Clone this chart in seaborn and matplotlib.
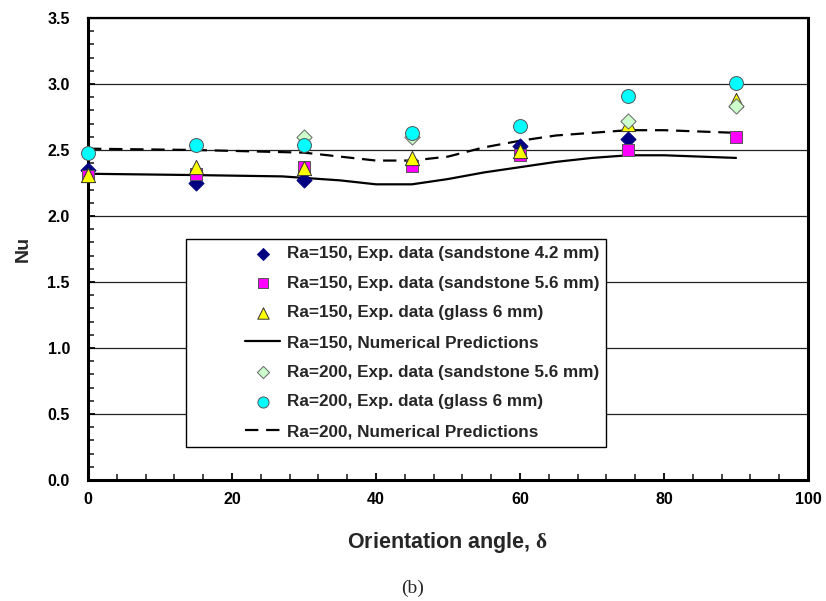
import numpy as np
import pandas as pd
import matplotlib
matplotlib.use("Agg")
import matplotlib.pyplot as plt
import matplotlib.patches as mpatches
import seaborn as sns
from matplotlib.ticker import MultipleLocator

# ---- data ----
ra150_sand42_x = [0, 15, 30, 60, 75]
ra150_sand42_y = [2.35, 2.25, 2.27, 2.53, 2.58]

ra150_sand56_x = [0, 15, 30, 45, 60, 75, 90]
ra150_sand56_y = [2.30, 2.32, 2.37, 2.38, 2.46, 2.50, 2.60]

ra150_glass_x = [0, 15, 30, 45, 60, 75, 90]
ra150_glass_y = [2.31, 2.37, 2.36, 2.44, 2.49, 2.70, 2.88]

ra150_num_x = [0, 15, 27, 35, 40, 45, 50, 55, 60, 65, 70, 75, 80, 85, 90]
ra150_num_y = [2.32, 2.31, 2.30, 2.27, 2.24, 2.24, 2.28, 2.33, 2.37, 2.41, 2.44, 2.46, 2.46, 2.45, 2.44]

ra200_sand56_x = [30, 45, 75, 90]
ra200_sand56_y = [2.60, 2.60, 2.72, 2.83]

ra200_glass_x = [0, 15, 30, 45, 60, 75, 90]
ra200_glass_y = [2.48, 2.54, 2.54, 2.63, 2.68, 2.91, 3.01]

ra200_num_x = [0, 15, 30, 35, 40, 45, 50, 55, 60, 65, 70, 75, 80, 85, 90]
ra200_num_y = [2.51, 2.50, 2.48, 2.45, 2.42, 2.42, 2.45, 2.52, 2.57, 2.61, 2.63, 2.65, 2.65, 2.64, 2.63]

labels = [
    "Ra=150, Exp. data (sandstone 4.2 mm)",
    "Ra=150, Exp. data (sandstone 5.6 mm)",
    "Ra=150, Exp. data (glass 6 mm)",
    "Ra=150, Numerical Predictions",
    "Ra=200, Exp. data (sandstone 5.6 mm)",
    "Ra=200, Exp. data (glass 6 mm)",
    "Ra=200, Numerical Predictions",
]

# ---- style ----
sns.set_style("white")
plt.rcParams["font.family"] = ["Liberation Sans", "DejaVu Sans"]
plt.rcParams["font.weight"] = "bold"
plt.rcParams["mathtext.fontset"] = "custom"
plt.rcParams["mathtext.rm"] = "Liberation Serif"
plt.rcParams["mathtext.it"] = "Liberation Serif:italic"

W, H = 826, 601
fig = plt.figure(figsize=(W / 100, H / 100), dpi=100)
ax = fig.add_axes([88 / W, 1 - 480 / H, (808 - 88) / W, (480 - 18) / H])

sns.lineplot(x=ra150_num_x, y=ra150_num_y, ax=ax, color="black", lw=1.6,
             label=labels[3], zorder=2, sort=False)
sns.lineplot(x=ra200_num_x, y=ra200_num_y, ax=ax, color="black", lw=1.6,
             label=labels[6], zorder=2, sort=False)
ax.lines[-1].set_dashes((6, 3.5))

sc_kw = dict(ax=ax, zorder=3, clip_on=False)
sns.scatterplot(x=ra150_sand42_x, y=ra150_sand42_y, marker="D", s=60,
                color="#000080", edgecolor="#000080", linewidth=0.6, label=labels[0], **sc_kw)
sns.scatterplot(x=ra150_sand56_x, y=ra150_sand56_y, marker="s", s=85,
                color="#FF00FF", edgecolor="#555555", linewidth=0.7, label=labels[1], **sc_kw)
sns.scatterplot(x=ra150_glass_x, y=ra150_glass_y, marker="^", s=105,
                color="#FFFF00", edgecolor="#333333", linewidth=0.7, label=labels[2], **sc_kw)
sns.scatterplot(x=ra200_sand56_x, y=ra200_sand56_y, marker="D", s=60,
                color="#CCFFCC", edgecolor="#666666", linewidth=0.7, label=labels[4], **sc_kw)
sns.scatterplot(x=ra200_glass_x, y=ra200_glass_y, marker="o", s=100,
                color="#00FFFF", edgecolor="#555555", linewidth=0.7, label=labels[5], **sc_kw)

# collect handles, then drop seaborn's automatic axes legend
handles, labs = ax.get_legend_handles_labels()
if ax.get_legend() is not None:
    ax.get_legend().remove()

ax.set_xlim(0, 100)
ax.set_ylim(0, 3.5)
ax.xaxis.set_major_locator(MultipleLocator(20))
ax.xaxis.set_minor_locator(MultipleLocator(4))
ax.yaxis.set_major_locator(MultipleLocator(0.5))
ax.yaxis.set_minor_locator(MultipleLocator(0.1))
ax.yaxis.set_major_formatter(matplotlib.ticker.FormatStrFormatter("%.1f"))
ax.tick_params(axis="both", which="major", direction="in", length=5, width=1.3,
               labelsize=11.5, colors="black")
ax.tick_params(axis="both", which="minor", direction="in", length=4, width=1.2)
ax.tick_params(axis="y", which="both", left=True, right=False)
ax.tick_params(axis="y", which="major", pad=13)
ax.tick_params(axis="x", which="both", bottom=True, top=False)
ax.tick_params(axis="x", which="major", pad=9)
for lab in ax.get_xticklabels() + ax.get_yticklabels():
    lab.set_fontweight("bold")

ax.grid(axis="y", which="major", color="#222222", lw=0.9)
ax.grid(axis="x", visible=False)
ax.set_axisbelow(True)

for side, lw in {"left": 2.2, "bottom": 2.2, "right": 2.2, "top": 1.6}.items():
    ax.spines[side].set_visible(True)
    ax.spines[side].set_color("black")
    ax.spines[side].set_linewidth(lw)

ax.set_ylabel("Nu", fontsize=14, fontweight="bold", labelpad=11)
ax.set_xlabel(r"Orientation angle, $\mathrm{\delta}$", fontsize=15.5, fontweight="bold", labelpad=16)

# legend box drawn at figure level (opaque), legend on top of it
fx0, fx1, fy0, fy1 = 186, 606, 239, 447
box = mpatches.Rectangle((fx0 / W, 1 - fy1 / H), (fx1 - fx0) / W, (fy1 - fy0) / H,
                         transform=fig.transFigure, facecolor="white",
                         edgecolor="black", lw=1.0, zorder=4)
fig.add_artist(box)
hmap = dict(zip(labs, handles))
leg = fig.legend([hmap[l] for l in labels], labels, loc="upper left",
                 bbox_to_anchor=(245 / W, 1 - 246 / H),
                 frameon=False, fontsize=12.3, labelspacing=0.86, handlelength=2.05,
                 handletextpad=0.4, borderpad=0, borderaxespad=0, markerscale=0.8)
leg.set_zorder(5)
for t in leg.get_texts():
    t.set_fontweight("bold")

fig.text(413 / W, 1 - 588 / H, "(b)", ha="center", va="center",
         fontsize=14, family="Liberation Serif", fontweight="normal")

fig.savefig("out.png", dpi=100)
